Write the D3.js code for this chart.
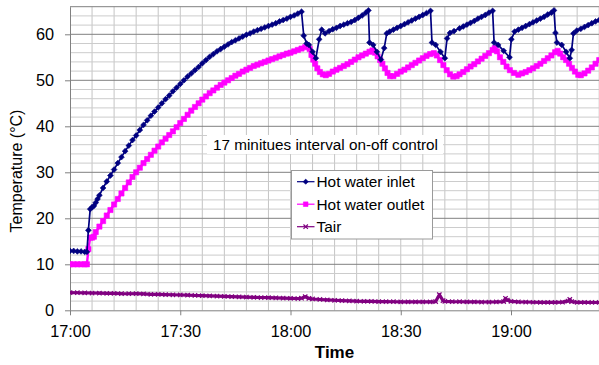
<!DOCTYPE html>
<html>
<head>
<meta charset="utf-8">
<script src="https://cdn.jsdelivr.net/npm/d3@7"></script>
<style>
  body { margin: 0; background: #fff; }
  svg { display: block; font-family: Arial, "Liberation Sans", sans-serif; }
</style>
</head>
<body>
<svg id="chart" width="599" height="365"></svg>
<script>
// Readings: [minutes after 17:00, temperature °C]
const inletReadings = [
  [0,12.9],[1,12.9],[2,12.8],[3,12.8],[4,12.7],[4.6,12.7],[5.0,17.4],[5.5,22.0],[6,22.4],[6.5,22.7],
  [7,23.4],[7.5,24.2],[8,25.0],[9,26.6],[10,28.0],[11,29.3],[12,30.6],[13,32.0],[14,33.3],[15,34.6],
  [16,35.8],[17,37.0],[18,38.0],[19,39.2],[20,40.3],[21,41.3],[22,42.3],[23,43.2],[24,44.1],[25,45.0],
  [26,45.9],[27,46.7],[28,47.6],[29,48.4],[30,49.2],[31,50.0],[32,50.8],[33,51.5],[34,52.2],[35,52.9],
  [36,53.7],[37,54.4],[38,55.1],[39,55.7],[40,56.3],[41,56.8],[42,57.3],[43,57.8],[44,58.3],[45,58.7],
  [46,59.1],[47,59.5],[48,59.9],[49,60.2],[50,60.6],[51,60.9],[52,61.2],[53,61.5],[54,61.8],[55,62.1],
  [56,62.4],[57,62.8],[58,63.1],[59,63.4],[60,63.8],[61,64.1],[62,64.5],[63,64.9],
  [63.6,59.7],[64.4,58.0],[65.0,57.7],[66.0,56.2],[66.9,54.8],[67.8,58.9],[68.5,61.0],[69.4,60.2],
  [70.5,60.7],[71.5,61.1],[72.5,61.4],[73.5,61.8],[74.5,62.1],[75.5,62.4],[76.5,62.7],[77.5,63.1],
  [78.5,63.6],[79.5,64.1],[80.5,64.7],[81.2,65.2],
  [81.5,58.2],[82.5,57.7],[83.5,56.2],[84.6,54.5],[85.5,57.0],[86.2,60.2],[87.0,60.6],[88,61.0],
  [89,61.4],[90,61.8],[91,62.2],[92,62.6],[93,63.0],[94,63.4],[95,63.8],[96,64.2],[97,64.6],[98.1,65.1],
  [98.5,58.2],[99.5,57.7],[100.8,56.2],[102.0,54.8],[102.6,59.1],[103.4,60.3],[104.5,60.7],[106,61.3],
  [107,61.7],[108,62.1],[109,62.5],[110,62.9],[111,63.4],[112,63.8],[113,64.2],[114,64.7],[115,65.1],
  [115.4,58.2],[116.5,57.7],[118,56.4],[119.6,55.0],[120.1,58.9],[121.0,60.6],[122,61.0],[123,61.4],
  [124,61.8],[125,62.2],[126,62.6],[127,63.0],[128,63.4],[129,63.8],[130,64.3],[131,64.7],[131.7,65.2],
  [132.1,60.3],[132.5,58.2],[133.8,57.7],[135,56.2],[136,54.8],[136.5,56.6],[137.0,60.2],[137.9,60.8],
  [139,61.2],[140,61.6],[141,62.0],[142,62.4],[143,62.8],[144,63.1]
];

const outletReadings = [
  [0,10.0],[1,10.0],[2,10.0],[3,10.0],[4,10.0],[4.6,10.0],[5.0,13.3],[5.5,15.8],[6,15.8],[6.5,16.0],
  [7,17.0],[8,18.2],[9,19.4],[10,20.6],[11,21.8],[12,23.0],[13,24.2],[14,25.4],[15,26.6],[16,27.8],
  [17,29.0],[18,30.0],[19,31.0],[20,32.0],[21,32.9],[22,33.8],[23,34.7],[24,35.6],[25,36.5],[26,37.3],
  [27,38.1],[28,38.9],[29,39.8],[30,40.7],[31,41.6],[32,42.5],[33,43.4],[34,44.2],[35,45.0],[36,45.8],
  [37,46.5],[38,47.2],[39,47.8],[40,48.4],[41,49.0],[42,49.5],[43,50.0],[44,50.5],[45,51.0],[46,51.4],
  [47,51.9],[48,52.3],[49,52.7],[50,53.1],[51,53.4],[52,53.7],[53,54.0],[54,54.3],[55,54.6],[56,54.9],
  [57,55.2],[58,55.5],[59,55.8],[60,56.0],[61,56.3],[62,56.6],[63,56.9],[64,57.2],[64.6,57.4],
  [65.2,56.8],[65.7,55.5],[66.2,54.5],[66.7,53.6],[67.3,52.6],[68,51.8],[68.8,51.3],[69.6,51.1],
  [70.5,51.4],[71.5,51.9],[72.5,52.3],[73.5,52.7],[74.5,53.1],[75.5,53.5],[76.5,54.0],[77.5,54.5],
  [78.5,55.0],[79.5,55.4],[80.5,55.8],[81.5,56.2],[82.3,56.5],[83,56.0],[83.7,55.2],[84.4,54.4],
  [85,53.6],[85.7,52.6],[86.4,51.6],[87.1,50.9],[88,50.9],[89,51.4],[90,51.9],[91,52.3],[92,52.8],
  [93,53.3],[94,53.8],[95,54.3],[96,54.8],[97,55.3],[98,55.7],[99,55.9],[99.8,55.4],[100.7,54.4],
  [101.6,53.3],[102.5,52.2],[103.4,51.3],[104.3,50.8],[105.2,50.9],[106,51.3],[107,51.8],[108,52.4],
  [109,53.0],[110,53.5],[111,54.1],[112,54.7],[113,55.3],[114,55.9],[115,56.6],[115.6,57.0],
  [116.2,56.3],[117,55.0],[117.9,54.0],[118.8,53.0],[119.7,52.2],[120.8,51.6],[122,51.2],[123,51.5],
  [124,51.8],[125,52.2],[126,52.6],[127,53.1],[128,53.6],[129,54.2],[130,54.8],[131,55.4],[132,56.1],
  [132.7,56.4],[133.4,55.8],[134.2,55.0],[135,54.4],[135.8,53.6],[136.6,52.7],[137.4,51.9],[138.3,51.2],
  [139,51.1],[140,51.5],[141,52.1],[142,52.8],[143,53.6],[144,54.4]
];

const airReadings = [
  [0,3.85],[2,3.82],[4,3.80],[6,3.76],[8,3.72],[10,3.70],[12,3.68],[14,3.62],[16,3.60],[18,3.62],
  [20,3.55],[22,3.48],[24,3.45],[26,3.42],[28,3.38],[30,3.33],[32,3.28],[34,3.22],[36,3.18],[38,3.12],
  [40,3.08],[42,3.02],[44,2.97],[46,2.92],[48,2.88],[50,2.82],[52,2.78],[54,2.74],[56,2.70],[58,2.65],
  [60,2.60],[62,2.56],[63,2.62],[64,2.95],[65,2.60],[66,2.46],[68,2.35],[70,2.25],[72,2.18],[74,2.12],
  [76,2.05],[78,1.98],[80,1.95],[82,1.92],[84,1.90],[86,1.88],[88,1.86],[90,1.85],[92,1.84],[94,1.83],
  [96,1.82],[98,1.82],[99.5,1.90],[100.5,3.40],[101.5,2.10],[102,1.95],[104,1.88],[106,1.86],[108,1.84],
  [110,1.82],[112,1.80],[114,1.80],[116,1.82],[118,1.90],[118.5,2.60],[119,2.20],[120,1.95],[122,1.85],
  [124,1.80],[126,1.75],[128,1.72],[130,1.72],[132,1.74],[134,1.78],[135.5,2.00],[136,2.35],[136.5,1.90],
  [138,1.74],[140,1.72],[142,1.70],[144,1.70]
];

const seriesNames = ["Hot water inlet", "Hot water outlet", "Tair"];
const xTickLabels = ["17:00", "17:30", "18:00", "18:30", "19:00"];
const yTicks = [0, 10, 20, 30, 40, 50, 60];
const yAxisTitle = "Temperature (\u00B0C)";
const xAxisTitle = "Time";
const noteText = "17 minitues interval on-off control";

// ---- layout ----
const W = 599, H = 365;
const plot = { left: 70, top: 6.7, right: 599.2, bottom: 310.3 };
const start = new Date(2000, 0, 1, 17, 0);
const atMinute = m => new Date(start.getTime() + m * 60000);
const parseHM = d3.timeParse("%H:%M");
const asDay = t => new Date(2000, 0, 1, t.getHours(), t.getMinutes());

const x = d3.scaleTime().domain([start, atMinute(144)]).range([plot.left, plot.right]);
const y = d3.scaleLinear().domain([0, 66]).range([plot.bottom, plot.top]);

const svg = d3.select("#chart");
svg.append("rect").attr("width", W).attr("height", H).attr("fill", "#fff");

// ---- gridlines ----
const grid = svg.append("g");
const vMinutes = d3.range(6, 145, 6);
grid.selectAll("line.v").data(vMinutes).join("line")
  .attr("x1", m => x(atMinute(m))).attr("x2", m => x(atMinute(m)))
  .attr("y1", plot.top).attr("y2", plot.bottom)
  .attr("stroke", "#c4c4c4").attr("stroke-width", 1);
const hMinor = d3.range(2, 66, 2).filter(v => v % 10 !== 0);
grid.selectAll("line.hm").data(hMinor).join("line")
  .attr("x1", plot.left).attr("x2", plot.right)
  .attr("y1", v => y(v)).attr("y2", v => y(v))
  .attr("stroke", "#cccccc").attr("stroke-width", 1);
const hMajor = yTicks.filter(v => v > 0).concat([66]);
grid.selectAll("line.hM").data(hMajor).join("line")
  .attr("x1", plot.left).attr("x2", plot.right)
  .attr("y1", v => y(v)).attr("y2", v => y(v))
  .attr("stroke", "#808080").attr("stroke-width", 1);

// ---- annotation box ----
svg.append("rect").attr("x", 207).attr("y", 135).attr("width", 236).attr("height", 19).attr("fill", "#fff");
svg.append("text").attr("x", 325.5).attr("y", 150).attr("text-anchor", "middle")
  .attr("font-size", 15.3).attr("fill", "#000").text(noteText);

// ---- axes ----
const xAxis = d3.axisBottom(x)
  .tickValues(xTickLabels.map(s => asDay(parseHM(s))))
  .tickFormat(d3.timeFormat("%H:%M"))
  .tickSize(5).tickSizeOuter(0).tickPadding(10.5);
const gx = svg.append("g").attr("transform", `translate(0,${plot.bottom})`).call(xAxis);
gx.select(".domain").attr("stroke", "#808080");
gx.selectAll(".tick line").attr("stroke", "#808080");
gx.selectAll(".tick text").attr("font-size", 16.3).attr("font-family", "Arial, 'Liberation Sans', sans-serif").attr("fill", "#000");

const yAxis = d3.axisLeft(y).tickValues(yTicks).tickSize(5).tickSizeOuter(0).tickPadding(11);
const gy = svg.append("g").attr("transform", `translate(${plot.left},0)`).call(yAxis);
gy.select(".domain").attr("stroke", "#808080");
gy.selectAll(".tick line").attr("stroke", "#808080");
gy.selectAll(".tick text").attr("font-size", 16.3).attr("font-family", "Arial, 'Liberation Sans', sans-serif").attr("fill", "#000");

// ---- series ----
svg.append("clipPath").attr("id", "plotClip").append("rect")
  .attr("x", plot.left).attr("y", 0).attr("width", plot.right - plot.left + 2).attr("height", plot.bottom + 4);
const layer = svg.append("g").attr("clip-path", "url(#plotClip)");

const line = d3.line().x(d => x(atMinute(d[0]))).y(d => y(d[1]));
const diamond = r => `M0,${-r}L${r},0L0,${r}L${-r},0Z`;
const square = s => `M${-s},${-s}H${s}V${s}H${-s}Z`;
const cross = s => `M${-s},${-s}L${s},${s}M${-s},${s}L${s},${-s}`;

const series = [
  { name: seriesNames[1], data: outletReadings, color: "#FF00FF", width: 2.4, marker: square(2.6), filled: true },
  { name: seriesNames[0], data: inletReadings, color: "#000080", width: 1.7, marker: diamond(2.9), filled: true },
  { name: seriesNames[2], data: airReadings, color: "#800080", width: 3.2, marker: cross(2.2), filled: false }
];

series.forEach(s => {
  layer.append("path").datum(s.data).attr("d", line)
    .attr("fill", "none").attr("stroke", s.color).attr("stroke-width", s.width)
    .attr("stroke-linejoin", "round");
  layer.append("g").selectAll("path").data(s.data).join("path")
    .attr("transform", d => `translate(${x(atMinute(d[0]))},${y(d[1])})`)
    .attr("d", s.marker)
    .attr("fill", s.filled ? s.color : "none")
    .attr("stroke", s.color).attr("stroke-width", s.filled ? 0.6 : 1.2);
});

// ---- legend ----
const legend = svg.append("g");
legend.append("rect").attr("x", 291.5).attr("y", 170.5).attr("width", 141).attr("height", 68.5)
  .attr("fill", "#fff").attr("stroke", "#9a9a9a").attr("stroke-width", 1);
const legendItems = [
  { name: seriesNames[0], color: "#000080", marker: diamond(2.6), filled: true },
  { name: seriesNames[1], color: "#FF00FF", marker: square(2.3), filled: true },
  { name: seriesNames[2], color: "#800080", marker: cross(2.2), filled: false }
];
legendItems.forEach((it, i) => {
  const cy = 181.7 + i * 22.5;
  legend.append("line").attr("x1", 297).attr("x2", 314.5).attr("y1", cy).attr("y2", cy)
    .attr("stroke", it.color).attr("stroke-width", 1.2);
  legend.append("path").attr("transform", `translate(305.7,${cy})`).attr("d", it.marker)
    .attr("fill", it.filled ? it.color : "none").attr("stroke", it.color)
    .attr("stroke-width", it.filled ? 0.6 : 1.2);
  legend.append("text").attr("x", 316.5).attr("y", cy + 5.3).attr("font-size", 15.4)
    .attr("fill", "#000").text(it.name);
});

// ---- axis titles ----
svg.append("text").attr("transform", "translate(21.5,171) rotate(-90)")
  .attr("text-anchor", "middle").attr("font-size", 16).attr("fill", "#000").text(yAxisTitle);
svg.append("text").attr("x", 334.5).attr("y", 357.5).attr("text-anchor", "middle")
  .attr("font-size", 17).attr("font-weight", "bold").attr("fill", "#000").text(xAxisTitle);
</script>
</body>
</html>
